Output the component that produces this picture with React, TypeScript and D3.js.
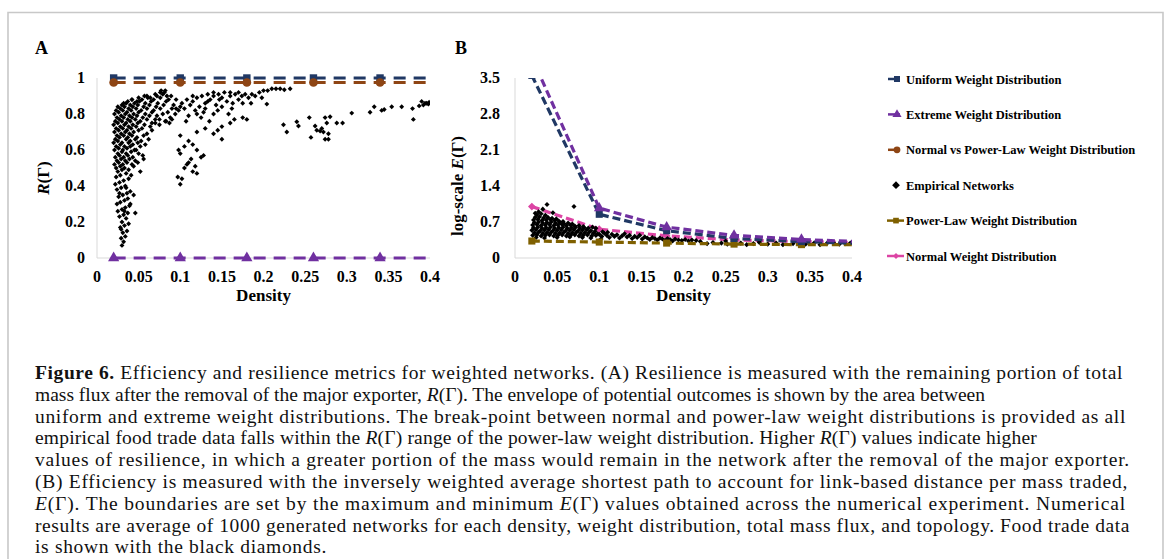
import React, { useRef, useEffect } from "react";
import * as d3 from "d3";

// densities of the simulated networks (last one falls outside the axis and is clipped)
const densities = [0.02, 0.1, 0.18, 0.26, 0.34, 0.42];

// panel A: R(Gamma)
const uniformA = [1, 1, 1, 1, 1, 1];
const normalVsPowerA = [0.975, 0.975, 0.975, 0.975, 0.975, 0.975];
const extremeA = [0, 0, 0, 0, 0, 0];

// panel B: log-scale E(Gamma)
const uniformB = [3.55, 0.85, 0.53, 0.38, 0.32, 0.28];
const extremeB = [3.9, 0.97, 0.6, 0.44, 0.36, 0.31];
const normalB = [1.0, 0.56, 0.43, 0.35, 0.32, 0.3];
const powerLawB = [0.33, 0.31, 0.29, 0.27, 0.26, 0.26];

const xTicks = [0, 0.05, 0.1, 0.15, 0.2, 0.25, 0.3, 0.35, 0.4];
const yTicksA = [0, 0.2, 0.4, 0.6, 0.8, 1];
const yTicksB = [0, 0.7, 1.4, 2.1, 2.8, 3.5];

// empirical food trade networks, panel A (density, R)
const empiricalA = [
  [0.030,0.07],[0.032,0.09],[0.029,0.11],[0.034,0.12],[0.031,0.14],[0.036,0.15],[0.028,0.17],[0.033,0.18],
  [0.038,0.19],[0.030,0.20],[0.035,0.22],[0.027,0.23],[0.032,0.24],[0.037,0.25],[0.025,0.26],[0.030,0.27],
  [0.034,0.28],[0.039,0.29],[0.024,0.30],[0.028,0.31],[0.033,0.32],[0.037,0.33],[0.026,0.34],[0.031,0.35],
  [0.036,0.36],[0.040,0.37],[0.024,0.38],[0.029,0.39],[0.034,0.40],[0.022,0.41],[0.027,0.42],[0.032,0.43],
  [0.038,0.44],[0.023,0.45],[0.028,0.46],[0.035,0.47],[0.041,0.46],[0.025,0.48],[0.030,0.49],[0.046,0.25],
  [0.044,0.35],[0.040,0.30],[0.027,0.36],[0.033,0.26],[0.029,0.16],[0.035,0.39],
  [0.023,0.50],[0.028,0.51],[0.033,0.50],[0.038,0.49],[0.044,0.51],[0.052,0.48],
  [0.021,0.52],[0.026,0.53],[0.031,0.52],[0.036,0.53],[0.042,0.52],[0.049,0.53],
  [0.024,0.54],[0.029,0.55],[0.034,0.54],[0.039,0.55],[0.046,0.54],[0.056,0.55],
  [0.022,0.56],[0.027,0.57],[0.032,0.56],[0.037,0.57],[0.043,0.56],[0.050,0.58],
  [0.025,0.58],[0.030,0.59],[0.035,0.58],[0.041,0.59],[0.047,0.60],[0.055,0.57],
  [0.021,0.60],[0.026,0.61],[0.031,0.60],[0.036,0.61],[0.040,0.62],[0.045,0.60],[0.052,0.62],
  [0.023,0.62],[0.028,0.63],[0.033,0.62],[0.038,0.64],[0.043,0.63],[0.049,0.64],[0.058,0.63],
  [0.020,0.64],[0.025,0.65],[0.030,0.64],[0.035,0.66],[0.040,0.65],[0.046,0.66],[0.053,0.65],
  [0.022,0.66],[0.027,0.67],[0.032,0.68],[0.037,0.67],[0.042,0.68],[0.048,0.67],[0.056,0.68],[0.062,0.66],
  [0.024,0.68],[0.029,0.69],[0.034,0.70],[0.039,0.69],[0.044,0.70],[0.050,0.71],[0.060,0.69],
  [0.021,0.70],[0.026,0.71],[0.031,0.72],[0.036,0.71],[0.041,0.72],[0.047,0.73],[0.054,0.72],[0.066,0.71],
  [0.023,0.72],[0.028,0.73],[0.033,0.74],[0.038,0.73],[0.043,0.74],[0.049,0.75],[0.057,0.74],[0.064,0.73],
  [0.020,0.74],[0.025,0.75],[0.030,0.76],[0.035,0.75],[0.040,0.76],[0.046,0.77],[0.052,0.76],[0.060,0.77],[0.070,0.75],
  [0.022,0.76],[0.027,0.77],[0.032,0.78],[0.037,0.77],[0.042,0.78],[0.048,0.79],[0.055,0.78],[0.063,0.79],[0.075,0.77],[0.082,0.76],
  [0.024,0.78],[0.029,0.79],[0.034,0.80],[0.039,0.79],[0.044,0.80],[0.050,0.81],[0.058,0.80],[0.066,0.81],[0.072,0.79],[0.079,0.80],[0.088,0.78],
  [0.021,0.80],[0.026,0.81],[0.031,0.82],[0.036,0.81],[0.041,0.82],[0.047,0.83],[0.053,0.82],[0.060,0.83],[0.068,0.82],[0.076,0.83],[0.085,0.81],[0.094,0.80],
  [0.023,0.82],[0.028,0.83],[0.033,0.84],[0.038,0.83],[0.043,0.84],[0.049,0.85],[0.056,0.84],[0.063,0.85],[0.071,0.84],[0.080,0.85],[0.090,0.83],[0.098,0.82],
  [0.025,0.84],[0.030,0.85],[0.035,0.86],[0.040,0.85],[0.045,0.86],[0.051,0.87],[0.058,0.86],[0.065,0.87],[0.073,0.86],[0.083,0.87],[0.092,0.85],
  [0.032,0.86],[0.037,0.87],[0.042,0.88],[0.048,0.87],[0.054,0.88],[0.061,0.89],[0.068,0.88],[0.076,0.89],[0.086,0.88],
  [0.042,0.88],[0.050,0.89],[0.057,0.90],[0.064,0.89],[0.072,0.90],[0.079,0.91],[0.084,0.90],
  [0.060,0.90],[0.070,0.91],[0.076,0.92],[0.081,0.92],[0.077,0.93],[0.082,0.93],
  [0.066,0.75],[0.070,0.77],[0.075,0.74],[0.083,0.76],[0.087,0.75],[0.090,0.77],[0.095,0.83],[0.100,0.84],[0.095,0.88],[0.089,0.90],
  [0.102,0.86],[0.105,0.83],[0.108,0.88],[0.112,0.85],[0.115,0.87],[0.118,0.82],[0.120,0.89],[0.123,0.84],
  [0.126,0.90],[0.130,0.86],[0.133,0.91],[0.136,0.88],[0.140,0.90],[0.143,0.85],[0.146,0.91],[0.150,0.89],
  [0.153,0.92],[0.156,0.87],[0.160,0.90],[0.163,0.86],[0.166,0.91],[0.170,0.88],[0.174,0.90],[0.178,0.91],
  [0.182,0.89],[0.186,0.91],[0.190,0.90],[0.195,0.92],[0.200,0.93],[0.205,0.93],[0.210,0.94],[0.215,0.94],
  [0.220,0.94],[0.225,0.935],[0.232,0.94],[0.198,0.89],[0.120,0.80],[0.125,0.78],[0.130,0.83],[0.140,0.80],
  [0.145,0.82],[0.135,0.76],[0.128,0.81],[0.150,0.84],[0.158,0.80],[0.162,0.83],[0.110,0.79],[0.107,0.76],
  [0.204,0.855],[0.175,0.86],[0.185,0.86],[0.115,0.90],[0.140,0.92],[0.170,0.92],[0.160,0.92],[0.133,0.87],[0.147,0.88],
  [0.100,0.41],[0.097,0.45],[0.102,0.44],[0.105,0.50],[0.110,0.53],[0.115,0.48],[0.120,0.47],[0.113,0.55],
  [0.125,0.56],[0.098,0.60],[0.100,0.58],[0.105,0.62],[0.110,0.65],[0.115,0.63],[0.120,0.60],[0.128,0.57],
  [0.100,0.68],[0.120,0.70],[0.130,0.72],[0.140,0.69],[0.145,0.71],[0.150,0.66],[0.150,0.73],[0.160,0.75],
  [0.165,0.77],[0.175,0.78],[0.180,0.77],[0.108,0.52],[0.118,0.51],
  [0.224,0.74],[0.228,0.70],[0.240,0.757],[0.242,0.733],[0.255,0.78],[0.257,0.67],[0.262,0.733],[0.264,0.71],
  [0.268,0.705],[0.270,0.72],[0.272,0.70],[0.274,0.78],[0.276,0.75],[0.278,0.69],[0.274,0.66],[0.278,0.66],
  [0.280,0.785],[0.288,0.75],[0.295,0.75],[0.306,0.805],[0.328,0.81],[0.333,0.84],[0.342,0.82],[0.345,0.825],
  [0.354,0.84],[0.366,0.84],[0.379,0.83],[0.380,0.77],[0.387,0.845],[0.390,0.87],[0.392,0.85],[0.394,0.86],
  [0.396,0.86],[0.398,0.855],[0.399,0.865],
];

// empirical food trade networks, panel B (density, log-scale E)
const empiricalB = [
  [0.021,0.44],[0.026,0.45],[0.031,0.43],[0.036,0.44],[0.041,0.45],[0.046,0.43],[0.051,0.44],[0.056,0.45],
  [0.061,0.43],[0.066,0.44],[0.071,0.45],[0.076,0.43],[0.081,0.44],[0.086,0.45],[0.091,0.43],[0.096,0.44],
  [0.023,0.49],[0.028,0.50],[0.033,0.48],[0.038,0.49],[0.043,0.50],[0.048,0.48],[0.053,0.49],[0.058,0.50],
  [0.063,0.48],[0.068,0.49],[0.073,0.50],[0.078,0.48],[0.083,0.49],[0.088,0.50],[0.093,0.48],[0.098,0.47],
  [0.020,0.54],[0.025,0.55],[0.030,0.53],[0.035,0.54],[0.040,0.55],[0.045,0.53],[0.050,0.54],[0.055,0.55],
  [0.060,0.53],[0.065,0.54],[0.070,0.55],[0.075,0.53],[0.080,0.54],[0.085,0.55],[0.090,0.53],[0.095,0.52],
  [0.022,0.59],[0.027,0.60],[0.032,0.58],[0.037,0.59],[0.042,0.60],[0.047,0.58],[0.052,0.59],[0.057,0.60],
  [0.062,0.58],[0.067,0.59],[0.072,0.60],[0.077,0.58],[0.082,0.59],[0.087,0.58],[0.092,0.60],
  [0.021,0.64],[0.026,0.65],[0.031,0.63],[0.036,0.64],[0.041,0.65],[0.046,0.63],[0.051,0.64],[0.056,0.65],
  [0.061,0.63],[0.066,0.64],[0.071,0.62],[0.076,0.63],[0.081,0.61],
  [0.023,0.69],[0.028,0.70],[0.033,0.68],[0.038,0.69],[0.043,0.70],[0.048,0.68],[0.053,0.69],[0.058,0.67],
  [0.063,0.68],[0.068,0.66],
  [0.022,0.74],[0.027,0.75],[0.032,0.73],[0.037,0.74],[0.042,0.75],[0.047,0.73],[0.052,0.72],[0.057,0.71],
  [0.024,0.79],[0.029,0.80],[0.034,0.78],[0.039,0.79],[0.044,0.77],[0.049,0.76],
  [0.026,0.84],[0.031,0.86],[0.036,0.83],[0.028,0.90],[0.033,0.95],[0.038,1.04],[0.070,1.00],[0.045,0.88],[0.024,0.87],
  [0.025,0.40],[0.035,0.39],[0.050,0.40],[0.065,0.41],[0.080,0.40],[0.090,0.39],
  [0.100,0.46],[0.103,0.42],[0.106,0.48],[0.109,0.44],[0.112,0.40],[0.115,0.46],[0.118,0.42],[0.121,0.45],
  [0.124,0.39],[0.127,0.43],[0.130,0.47],[0.133,0.41],[0.136,0.44],[0.139,0.38],[0.142,0.42],[0.145,0.40],
  [0.148,0.44],[0.151,0.37],[0.154,0.41],[0.157,0.39],[0.160,0.36],[0.163,0.40],[0.166,0.38],[0.169,0.35],
  [0.172,0.39],[0.175,0.37],[0.178,0.34],[0.181,0.38],[0.184,0.36],[0.187,0.33],[0.190,0.37],[0.194,0.35],
  [0.198,0.34],[0.202,0.36],[0.206,0.33],[0.210,0.35],[0.215,0.34],[0.220,0.32],[0.104,0.51],[0.110,0.50],
  [0.096,0.58],[0.102,0.37],
  [0.228,0.28],[0.235,0.30],[0.245,0.29],[0.252,0.27],[0.260,0.31],[0.268,0.29],[0.275,0.26],[0.283,0.28],
  [0.290,0.30],[0.300,0.27],[0.310,0.29],[0.318,0.26],[0.330,0.28],[0.340,0.31],[0.345,0.27],[0.355,0.29],
  [0.362,0.26],[0.370,0.28],[0.378,0.30],[0.385,0.27],[0.392,0.28],[0.398,0.29],[0.250,0.33],[0.290,0.33],
];

const legendLabels = [
  "Uniform Weight Distribution",
  "Extreme Weight Distribution",
  "Normal vs Power-Law Weight Distribution",
  "Empirical Networks",
  "Power-Law Weight Distribution",
  "Normal Weight Distribution",
];

// caption: each line is a list of [text, style] runs
const captionLines = [
  [["Figure 6.", "b"], [" Efficiency and resilience metrics for weighted networks. (A) Resilience is measured with the remaining portion of total", ""]],
  [["mass flux after the removal of the major exporter, ", ""], ["R", "i"], ["(Γ). The envelope of potential outcomes is shown by the area between", ""]],
  [["uniform and extreme weight distributions. The break-point between normal and power-law weight distributions is provided as all", ""]],
  [["empirical food trade data falls within the ", ""], ["R", "i"], ["(Γ) range of the power-law weight distribution. Higher ", ""], ["R", "i"], ["(Γ) values indicate higher", ""]],
  [["values of resilience, in which a greater portion of the mass would remain in the network after the removal of the major exporter.", ""]],
  [["(B) Efficiency is measured with the inversely weighted average shortest path to account for link-based distance per mass traded,", ""]],
  [["E", "i"], ["(Γ). The boundaries are set by the maximum and minimum ", ""], ["E", "i"], ["(Γ) values obtained across the numerical experiment. Numerical", ""]],
  [["results are average of 1000 generated networks for each density, weight distribution, total mass flux, and topology. Food trade data", ""]],
  [["is shown with the black diamonds.", ""]],
];
const captionEnds = [1123, 985, 1126, 1037, 1130, 1128, 1126, 1130, 327];

const NAVY = "#203864";
const PURPLE = "#7030A0";
const BROWN = "#8E4514";
const OLIVE = "#7F6000";
const PINK = "#DC44A4";
const FONT = "'Liberation Serif', 'Times New Roman', serif";

const diamond = d3.symbol().type(d3.symbolSquare);

const App = () => {
  const svgRef = useRef(null);

  useEffect(() => {
    const svg = d3.select(svgRef.current);
    svg.selectAll("*").remove();

    // frame
    svg.append("path")
      .attr("d", "M8,570 L8,12.5 L1163,12.5 L1163,570")
      .attr("fill", "none")
      .attr("stroke", "#c8c8c8")
      .attr("stroke-width", 1.6);

    const top = 78, bottom = 258;

    const drawPanel = (opts) => {
      const x = d3.scaleLinear().domain([0, 0.4]).range([opts.left, opts.right]);
      const y = d3.scaleLinear().domain([0, opts.ymax]).range([bottom, top]);
      const g = svg.append("g");

      g.append("clipPath").attr("id", opts.id)
        .append("rect")
        .attr("x", opts.left - 10).attr("y", opts.clipTop)
        .attr("width", opts.right - opts.left + 10).attr("height", bottom - opts.clipTop + 10);

      // axes
      g.append("line").attr("x1", opts.left).attr("x2", opts.left).attr("y1", top).attr("y2", bottom)
        .attr("stroke", "#d9d9d9");
      g.append("line").attr("x1", opts.left).attr("x2", opts.right).attr("y1", bottom).attr("y2", bottom)
        .attr("stroke", "#d9d9d9");

      g.selectAll(".xt").data(xTicks).enter().append("text")
        .attr("x", d => x(d)).attr("y", 281.5)
        .attr("text-anchor", "middle")
        .attr("font-family", FONT).attr("font-weight", "bold").attr("font-size", 16)
        .text(d => String(d));

      g.selectAll(".yt").data(opts.yTicks).enter().append("text")
        .attr("x", opts.labelRight).attr("y", d => y(d) + 5)
        .attr("text-anchor", "end")
        .attr("font-family", FONT).attr("font-weight", "bold").attr("font-size", 16)
        .text(d => String(d));

      g.append("text")
        .attr("x", (opts.left + opts.right) / 2).attr("y", 301)
        .attr("text-anchor", "middle")
        .attr("font-family", FONT).attr("font-weight", "bold").attr("font-size", 17)
        .text("Density");

      g.append("text")
        .attr("x", opts.letterX).attr("y", 54)
        .attr("font-family", FONT).attr("font-weight", "bold").attr("font-size", 18)
        .text(opts.letter);

      const yt = g.append("text")
        .attr("transform", `translate(${opts.titleX},${opts.titleY}) rotate(-90)`)
        .attr("text-anchor", "middle")
        .attr("font-family", FONT).attr("font-weight", "bold").attr("font-size", 17);
      yt.append("tspan").text(opts.titlePre);
      yt.append("tspan").attr("font-style", "italic").text(opts.titleVar);
      yt.append("tspan").text("(Γ)");

      const plot = g.append("g").attr("clip-path", `url(#${opts.id})`);

      const drawSeries = (s) => {
        const line = d3.line().x((d, i) => x(densities[i])).y(d => y(d));
        plot.append("path")
          .datum(s.values)
          .attr("d", line)
          .attr("fill", "none")
          .attr("stroke", s.color)
          .attr("stroke-width", opts.lineWidth)
          .attr("stroke-dasharray", opts.dash);
        plot.selectAll(null).data(s.values).enter().append("path")
          .attr("transform", (d, i) => `translate(${x(densities[i])},${y(d)}) rotate(${s.rot || 0})`)
          .attr("d", d3.symbol().type(s.symbol).size(s.size))
          .attr("fill", s.color);
      };

      const drawScatter = () => {
        plot.selectAll(null).data(opts.scatter).enter().append("path")
          .attr("transform", d => `translate(${x(d[0])},${y(d[1])}) rotate(45)`)
          .attr("d", diamond.size(opts.dotSize))
          .attr("fill", "#000");
      };

      opts.before.forEach(drawSeries);
      drawScatter();
      opts.after.forEach(drawSeries);
    };

    drawPanel({
      id: "clipA", left: 97, right: 430, ymax: 1, yTicks: yTicksA, labelRight: 85,
      letter: "A", letterX: 35, titleX: 49, titleY: 178, titlePre: "", titleVar: "R",
      clipTop: 68, lineWidth: 3, dash: "12,8", dotSize: 12, scatter: empiricalA,
      before: [],
      after: [
        { values: extremeA, color: PURPLE, symbol: d3.symbolTriangle, size: 55 },
        { values: uniformA, color: NAVY, symbol: d3.symbolSquare, size: 55 },
        { values: normalVsPowerA, color: BROWN, symbol: d3.symbolCircle, size: 60 },
      ],
    });

    drawPanel({
      id: "clipB", left: 515, right: 852, ymax: 3.5, yTicks: yTicksB, labelRight: 500,
      letter: "B", letterX: 455, titleX: 463, titleY: 186, titlePre: "log-scale ", titleVar: "E",
      clipTop: top, lineWidth: 3.2, dash: "8,4", dotSize: 13, scatter: empiricalB,
      before: [
        { values: normalB, color: PINK, symbol: d3.symbolSquare, size: 30, rot: 45 },
      ],
      after: [
        { values: powerLawB, color: OLIVE, symbol: d3.symbolSquare, size: 50 },
        { values: uniformB, color: NAVY, symbol: d3.symbolSquare, size: 50 },
        { values: extremeB, color: PURPLE, symbol: d3.symbolTriangle, size: 50 },
      ],
    });

    // legend
    const legendY = d3.scalePoint().domain(legendLabels).range([79, 256]);
    const legendSeries = [
      { color: NAVY, symbol: d3.symbolSquare, size: 36, x1: 888, x2: 900, mx: 897 },
      { color: PURPLE, symbol: d3.symbolTriangle, size: 36, x1: 888, x2: 900, mx: 897 },
      { color: BROWN, symbol: d3.symbolCircle, size: 36, x1: 888, x2: 900, mx: 897 },
      { color: "#000", symbol: d3.symbolSquare, size: 30, rot: 45, mx: 896 },
      { color: OLIVE, symbol: d3.symbolSquare, size: 32, x1: 887, x2: 904, mx: 896 },
      { color: PINK, symbol: d3.symbolSquare, size: 18, rot: 45, x1: 887, x2: 904, mx: 896 },
    ];
    const lg = svg.append("g");
    legendLabels.forEach((label, i) => {
      const s = legendSeries[i];
      const cy = legendY(label);
      if (s.x1) {
        lg.append("line").attr("x1", s.x1).attr("x2", s.x2).attr("y1", cy).attr("y2", cy)
          .attr("stroke", s.color).attr("stroke-width", 2.5);
      }
      lg.append("path")
        .attr("transform", `translate(${s.mx},${cy}) rotate(${s.rot || 0})`)
        .attr("d", d3.symbol().type(s.symbol).size(s.size))
        .attr("fill", s.color);
      lg.append("text")
        .attr("x", 906).attr("y", cy + 4.5)
        .attr("font-family", FONT).attr("font-weight", "bold").attr("font-size", 12.5)
        .text(label);
    });

    // caption: stretch each line to its width in the original with letter spacing
    const cap = svg.append("g");
    captionLines.forEach((runs, i) => {
      const t = cap.append("text")
        .attr("x", 35).attr("y", 379 + i * 21.8)
        .attr("font-family", FONT).attr("font-size", 19.5).attr("fill", "#111");
      runs.forEach(([txt, st]) => {
        const ts = t.append("tspan").text(txt);
        if (st === "b") ts.attr("font-weight", "bold");
        if (st === "i") ts.attr("font-style", "italic");
      });
      const len = t.node().getComputedTextLength();
      const chars = runs.map(r => r[0]).join("").length;
      const extra = captionEnds[i] - 35 - len;
      t.attr("letter-spacing", extra / chars);
    });
  }, []);

  return (
    <div style={{ position: "absolute", left: 0, top: 0 }}>
      <svg ref={svgRef} width={1170} height={559} style={{ display: "block", background: "#fff" }} />
    </div>
  );
};

export default App;
